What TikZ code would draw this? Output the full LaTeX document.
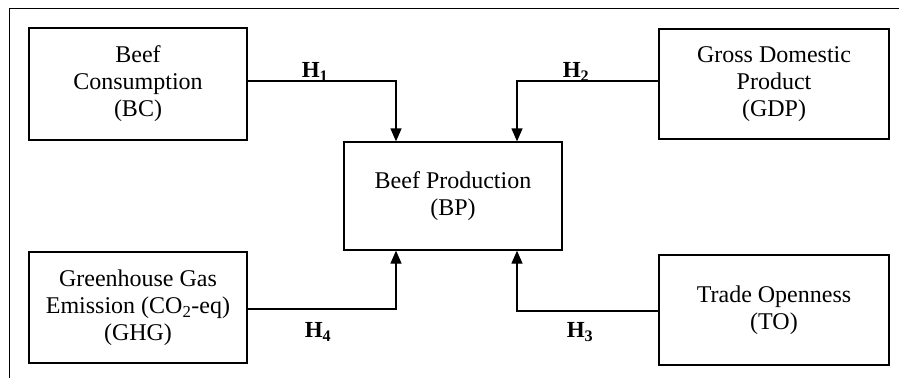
\documentclass[tikz,border=0pt]{standalone}
\usepackage{fontspec}
\setmainfont{Liberation Serif}
\usetikzlibrary{arrows.meta}
\begin{document}
\begin{tikzpicture}[x=1pt,y=-1pt,
  box/.style={draw,line width=1.3pt,rectangle,align=center,inner sep=0pt,
    font=\fontsize{24}{27}\selectfont},
  conn/.style={line width=1.3pt,-{Triangle[length=13pt,width=11pt]}},
  hlab/.style={font=\fontsize{23}{26}\selectfont\bfseries,inner sep=0pt}]
\useasboundingbox (0,0) rectangle (899,378);
\draw[line width=1pt] (9,378) -- (9,8) -- (899,8);
\node[box,minimum width=218pt,minimum height=112pt] (bc) at (138,84) {Beef\\Consumption\\(BC)};
\node[box,minimum width=230pt,minimum height=110pt] (gdp) at (774,84) {Gross Domestic\\Product\\(GDP)};
\node[box,minimum width=218pt,minimum height=108pt] (bp) at (453,196) {Beef Production\\(BP)};
\node[box,minimum width=218pt,minimum height=111pt] (ghg) at (138,307.5) {Greenhouse Gas\\Emission (CO\textsubscript{2}-eq)\\(GHG)};
\node[box,minimum width=230pt,minimum height=110pt] (to) at (774,310) {Trade Openness\\(TO)};
\coordinate (j1) at (396,81);
\coordinate (j2) at (517,81);
\coordinate (j4) at (396,309);
\coordinate (j3) at (517,311);
\draw[conn] (bc.east|-j1) -- (j1) -- (j1|-bp.north);
\draw[conn] (gdp.west|-j2) -- (j2) -- (j2|-bp.north);
\draw[conn] (ghg.east|-j4) -- (j4) -- (j4|-bp.south);
\draw[conn] (to.west|-j3) -- (j3) -- (j3|-bp.south);
\node[hlab] (h1) at (315,72) {H\textsubscript{1}};
\node[hlab] (h2) at (576,72) {H\textsubscript{2}};
\node[hlab] (h4) at (318,332) {H\textsubscript{4}};
\node[hlab] (h3) at (580,332) {H\textsubscript{3}};
\end{tikzpicture}
\end{document}
